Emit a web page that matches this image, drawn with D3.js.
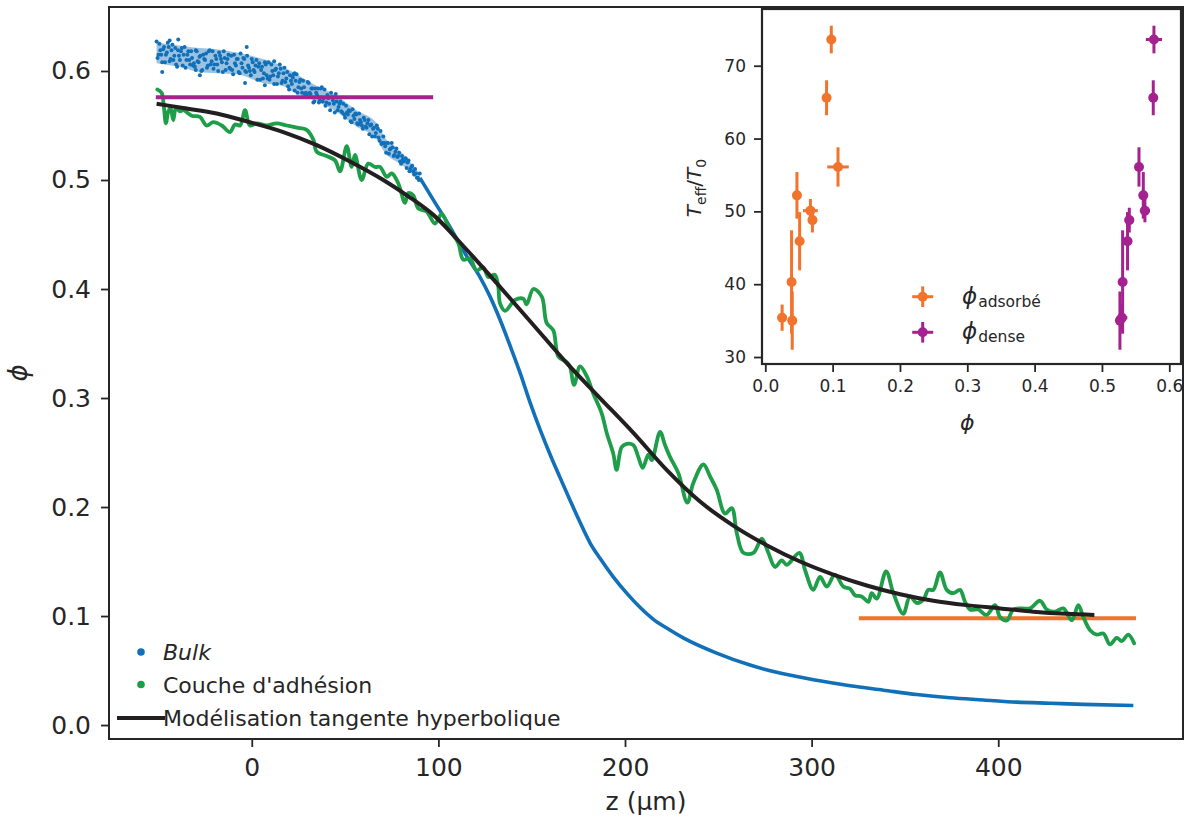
<!DOCTYPE html>
<html><head><meta charset="utf-8">
<script src="https://cdn.jsdelivr.net/npm/d3@7"></script>
<style>
body{margin:0;background:#fff}
svg{display:block}
text{font-family:"DejaVu Sans",sans-serif;fill:#262626}
</style>
</head><body>
<svg id="c" width="1197" height="821"></svg>
<script>
// ---------- DATA ----------
const xTicks = [0, 100, 200, 300, 400];
const yTicks = [0.0, 0.1, 0.2, 0.3, 0.4, 0.5, 0.6];
const insetXTicks = [0.0, 0.1, 0.2, 0.3, 0.4, 0.5, 0.6];
const insetYTicks = [30, 40, 50, 60, 70];

// Bulk: noisy upper region (z, phi)
const bulkTop = [[-51,0.627],[-50,0.615],[-49,0.619],[-48,0.608],[-47,0.622],[-46,0.615],[-45,0.626],[-44,0.609],[-43,0.619],[-42,0.610],
[-41,0.621],[-40,0.604],[-39,0.614],[-38,0.618],[-37,0.605],[-36,0.622],[-35,0.610],[-34,0.618],[-33,0.606],[-32,0.612],
[-31,0.607],[-30,0.619],[-29,0.609],[-28,0.613],[-27,0.600],[-26,0.615],[-25,0.610],[-24,0.603],[-23,0.618],[-22,0.606],
[-21,0.618],[-20,0.606],[-19,0.611],[-18,0.600],[-17,0.614],[-16,0.608],[-15,0.618],[-14,0.601],[-13,0.611],[-12,0.603],
[-11,0.614],[-10,0.597],[-9,0.607],[-8,0.611],[-7,0.599],[-6,0.616],[-5,0.603],[-4,0.611],[-3,0.599],[-2,0.605],
[-1,0.600],[0,0.611],[1,0.601],[2,0.605],[3,0.592],[4,0.607],[5,0.601],[6,0.593],[7,0.608],[8,0.596],
[9,0.608],[10,0.595],[11,0.600],[12,0.588],[13,0.602],[14,0.595],[15,0.606],[16,0.589],[17,0.598],[18,0.590],
[19,0.599],[20,0.583],[21,0.591],[22,0.594],[23,0.582],[24,0.597],[25,0.585],[26,0.592],[27,0.580],[28,0.585],
[29,0.580],[30,0.590],[31,0.580],[32,0.584],[33,0.571],[34,0.584],[35,0.578],[36,0.571],[37,0.584],[38,0.572],
[39,0.583],[40,0.571],[41,0.575],[42,0.564],[43,0.576],[44,0.570],[45,0.579],[46,0.564],[47,0.570],[48,0.563],
[49,0.570],[50,0.557],[51,0.562],[52,0.564],[53,0.554],[54,0.565],[55,0.556],[56,0.560],[57,0.551],[58,0.555],
[59,0.550],[60,0.557],[61,0.549],[62,0.552],[63,0.542],[64,0.551],[65,0.547],[66,0.540],[67,0.550],[68,0.539],
[69,0.545],[70,0.534],[71,0.534],[72,0.525],[73,0.534],[74,0.528],[75,0.534],[76,0.522],[77,0.526],[78,0.521],
[79,0.525],[80,0.515],[81,0.519],[82,0.519],[83,0.511],[84,0.518],[85,0.510],[86,0.513],[87,0.505],[88,0.506],
[89,0.502],[90,0.506],
[-48,0.599],[-39.4,0.629],[-27.8,0.596],[-2.7,0.622],[-3.6,0.589],[7,0.587],[23,0.598],[-44,0.628],[-30,0.601],[12,0.609]];
const bulkTop2 = [[-50.5,0.612],[-49.5,0.625],[-48.5,0.615],[-47.5,0.620],[-46.5,0.608],[-45.5,0.617],[-44.5,0.622],[-43.5,0.611],[-42.5,0.624],[-41.5,0.614],
[-40.5,0.606],[-39.5,0.619],[-38.5,0.610],[-37.5,0.621],[-36.5,0.615],[-35.5,0.603],[-34.5,0.615],[-33.5,0.610],[-32.5,0.618],[-31.5,0.605],
[-30.5,0.604],[-29.5,0.618],[-28.5,0.608],[-27.5,0.614],[-26.5,0.601],[-25.5,0.611],[-24.5,0.616],[-23.5,0.605],[-22.5,0.619],[-21.5,0.609],
[-20.5,0.602],[-19.5,0.614],[-18.5,0.606],[-17.5,0.617],[-16.5,0.611],[-15.5,0.599],[-14.5,0.612],[-13.5,0.607],[-12.5,0.615],[-11.5,0.602],
[-10.5,0.601],[-9.5,0.615],[-8.5,0.605],[-7.5,0.611],[-6.5,0.598],[-5.5,0.607],[-4.5,0.612],[-3.5,0.600],[-2.5,0.614],[-1.5,0.603],
[-0.5,0.596],[0.5,0.608],[1.5,0.599],[2.5,0.610],[3.5,0.604],[4.5,0.592],[5.5,0.604],[6.5,0.598],[7.5,0.606],[8.5,0.593],
[9.5,0.592],[10.5,0.606],[11.5,0.596],[12.5,0.601],[13.5,0.588],[14.5,0.598],[15.5,0.602],[16.5,0.591],[17.5,0.603],[18.5,0.593],
[19.5,0.586],[20.5,0.596],[21.5,0.588],[22.5,0.597],[23.5,0.591],[24.5,0.580],[25.5,0.590],[26.5,0.584],[27.5,0.591],[28.5,0.579],
[29.5,0.578],[30.5,0.589],[31.5,0.579],[32.5,0.584],[33.5,0.572],[34.5,0.580],[35.5,0.584],[36.5,0.573],[37.5,0.585],[38.5,0.575],
[39.5,0.568],[40.5,0.578],[41.5,0.570],[42.5,0.580],[43.5,0.573],[44.5,0.562],[45.5,0.572],[46.5,0.567],[47.5,0.572],[48.5,0.562],
[49.5,0.560],[50.5,0.568],[51.5,0.560],[52.5,0.563],[53.5,0.553],[54.5,0.559],[55.5,0.561],[56.5,0.552],[57.5,0.561],[58.5,0.553],
[59.5,0.547],[60.5,0.555],[61.5,0.548],[62.5,0.555],[63.5,0.550],[64.5,0.540],[65.5,0.548],[66.5,0.543],[67.5,0.547],[68.5,0.536],
[69.5,0.533],[70.5,0.540],[71.5,0.531],[72.5,0.534],[73.5,0.524],[74.5,0.529],[75.5,0.530],[76.5,0.523],[77.5,0.529],[78.5,0.522],
[79.5,0.517],[80.5,0.522],[81.5,0.517],[82.5,0.520],[83.5,0.516],[84.5,0.508],[85.5,0.512],[86.5,0.508],[87.5,0.510],[88.5,0.502],[89.5,0.500]];
// Bulk band envelope (upper noisy region)
const bandZ  = [-51, -37, -28, -19, -8, 6, 17, 22, 35, 45, 56, 67, 71, 81, 90];
const bandHi = [0.626,0.623,0.621,0.620,0.617,0.611,0.604,0.599,0.586,0.578,0.564,0.552,0.540,0.524,0.506];
const bandLo = [0.607,0.603,0.599,0.598,0.597,0.589,0.586,0.581,0.572,0.563,0.549,0.537,0.526,0.513,0.498];
// Bulk: smooth lower region
const bulkZ = [90.1,97.2,106.2,115.2,122.3,127.7,133.0,138.4,143.8,149.1,154.5,159.9,165.2,170.6,175.9,181.3,186.6,193.7,200.9,208.0,215.2,222.3,231.2,249.1,267.0,284.8,302.7,320.6,338.4,356.3,374.2,392.0,409.9,427.8,445.6,472.4];
const bulkPhi = [0.502,0.482,0.457,0.430,0.411,0.393,0.372,0.348,0.323,0.296,0.271,0.248,0.227,0.206,0.186,0.167,0.153,0.136,0.121,0.108,0.097,0.089,0.080,0.066,0.055,0.047,0.041,0.036,0.032,0.028,0.025,0.023,0.021,0.020,0.019,0.018];

// Couche d'adhesion
const greenZ = [-50.6,-48.3,-47.1,-46.0,-44.7,-43.5,-42.1,-40.6,-38.5,-36.7,-32.2,-27.8,-24.2,-20.6,-16.1,-11.7,-9.0,-6.3,-3.6,-1.0,2.6,8.0,13.3,18.7,24.1,29.4,33.0,34.8,40.1,44.6,47.3,50.9,53.5,55.3,58.9,62.4,66.0,68.7,72.3,75.0,78.5,82.1,83.9,86.5,89.2,93.7,98.2,101.8,106.2,110.7,113.3,116.9,120.5,124.1,126.7,130.3,132.1,133.0,135.7,141.1,145.5,147.3,150.9,155.4,158.0,161.6,164.3,168.8,170.5,172.7,175.9,179.5,183.0,187.5,190.2,193.7,195.5,198.2,200.9,204.4,207.1,209.5,212.5,214.3,218.8,221.4,224.1,228.6,233.4,236.6,242.0,245.6,249.1,253.6,257.2,259.9,263.4,268.8,273.3,276.8,280.4,284.0,286.7,293.4,296.5,300.9,304.5,308.1,312.5,317.0,320.6,323.3,326.8,330.4,332.2,334.9,339.9,343.8,349.1,352.7,356.3,359.9,362.5,365.2,368.8,372.4,375.9,379.5,382.2,384.9,389.3,393.8,398.3,401.0,404.6,408.1,412.6,417.0,422.4,426.0,430.4,434.9,439.4,442.9,445.6,449.2,452.8,456.3,459.9,463.5,466.2,469.7,472.8];
const greenPhi = [0.583,0.580,0.567,0.552,0.563,0.566,0.555,0.566,0.563,0.564,0.559,0.558,0.550,0.553,0.550,0.544,0.551,0.550,0.564,0.550,0.552,0.550,0.552,0.550,0.548,0.546,0.537,0.526,0.522,0.518,0.508,0.531,0.512,0.523,0.500,0.515,0.512,0.512,0.503,0.506,0.497,0.479,0.488,0.486,0.474,0.471,0.460,0.469,0.454,0.442,0.427,0.428,0.417,0.420,0.411,0.413,0.402,0.387,0.380,0.390,0.391,0.386,0.400,0.393,0.369,0.362,0.338,0.333,0.329,0.312,0.329,0.320,0.304,0.286,0.268,0.249,0.234,0.255,0.258,0.257,0.246,0.236,0.248,0.243,0.269,0.257,0.246,0.231,0.204,0.222,0.239,0.228,0.216,0.194,0.199,0.176,0.158,0.158,0.171,0.158,0.145,0.151,0.147,0.158,0.142,0.124,0.136,0.127,0.138,0.127,0.125,0.119,0.118,0.113,0.121,0.116,0.141,0.121,0.102,0.118,0.112,0.115,0.124,0.124,0.140,0.124,0.121,0.124,0.113,0.106,0.106,0.101,0.110,0.099,0.096,0.106,0.107,0.107,0.114,0.106,0.104,0.107,0.096,0.110,0.099,0.087,0.083,0.084,0.074,0.080,0.077,0.083,0.075];

// tanh model
const fitZ = [-51.0,-36.7,-18.8,-1.0,16.9,34.8,52.6,70.5,83.9,97.3,115.2,133.0,150.9,168.8,186.6,204.5,222.3,240.2,258.0,275.9,293.8,311.6,329.5,347.4,365.2,383.0,401.0,418.8,436.7,451.5];
const fitPhi = [0.570,0.566,0.561,0.553,0.544,0.532,0.517,0.500,0.485,0.468,0.436,0.402,0.367,0.332,0.300,0.268,0.234,0.205,0.183,0.165,0.150,0.138,0.128,0.120,0.114,0.110,0.107,0.104,0.102,0.101];

// horizontal levels
const denseLevel = {z0: -51.4, z1: 97.2, phi: 0.576};
const adsLevel = {z0: 325.3, z1: 473.8, phi: 0.098};

// inset
const teff    = [35.4, 35.0, 40.3, 52.2, 45.9, 50.1, 48.8, 65.6, 73.6, 56.1];
const teffErr = [1.8, 4.0, 7.1, 3.2, 4.0, 1.6, 1.7, 2.4, 1.9, 2.7];
const phiAds    = [0.025, 0.040, 0.039, 0.047, 0.051, 0.067, 0.070, 0.091, 0.098, 0.108];
const phiAdsErr = [0.007, 0.003, 0.003, 0.004, 0.004, 0.011, 0.005, 0.004, 0.004, 0.016];
const phiDense    = [0.5297, 0.5267, 0.5307, 0.5614, 0.538, 0.5638, 0.5406, 0.5762, 0.5772, 0.555];
const phiDenseErr = [0.008, 0.004, 0.004, 0.004, 0.004, 0.0075, 0.007, 0.004, 0.012, 0.004];

// ---------- STYLE ----------
const C = {blue:"#1170b8", green:"#1f9e49", orange:"#f2732b", purple:"#a3228f", black:"#231f20", axis:"#262626"};

const svg = d3.select("#c");
const M = {l:109, r:1183, t:7, b:739};
const x = d3.scaleLinear().domain([-76.5, 499]).range([M.l, M.r]);
const y = d3.scaleLinear().domain([-0.0128, 0.6587]).range([M.b, M.t]);

// bulk band
svg.append("path")
  .datum(d3.zip(bandZ, bandLo, bandHi))
  .attr("d", d3.area().x(d=>x(d[0])).y0(d=>y(d[1])).y1(d=>y(d[2])).curve(d3.curveMonotoneX))
  .attr("fill", C.blue).attr("fill-opacity", 0.42);
svg.append("g").selectAll("circle").data(bulkTop.concat(bulkTop2)).join("circle")
  .attr("cx", d=>x(d[0])).attr("cy", d=>y(d[1])).attr("r", 2.0).attr("fill", C.blue);
svg.append("path")
  .datum(d3.zip(bulkZ, bulkPhi))
  .attr("d", d3.line().x(d=>x(d[0])).y(d=>y(d[1])).curve(d3.curveMonotoneX))
  .attr("fill","none").attr("stroke", C.blue).attr("stroke-width", 3.6);

// orange level
svg.append("line").attr("x1", x(adsLevel.z0)).attr("x2", x(adsLevel.z1))
  .attr("y1", y(adsLevel.phi)).attr("y2", y(adsLevel.phi))
  .attr("stroke", C.orange).attr("stroke-width", 4);

// green
svg.append("path")
  .datum(d3.zip(greenZ, greenPhi))
  .attr("d", d3.line().x(d=>x(d[0])).y(d=>y(d[1])).curve(d3.curveCatmullRom))
  .attr("fill","none").attr("stroke", C.green).attr("stroke-width", 3.8)
  .attr("stroke-linejoin","round").attr("stroke-linecap","round");

// black fit
svg.append("path")
  .datum(d3.zip(fitZ, fitPhi))
  .attr("d", d3.line().x(d=>x(d[0])).y(d=>y(d[1])).curve(d3.curveMonotoneX))
  .attr("fill","none").attr("stroke", C.black).attr("stroke-width", 4);

// purple level
svg.append("line").attr("x1", x(denseLevel.z0)).attr("x2", x(denseLevel.z1))
  .attr("y1", y(denseLevel.phi)).attr("y2", y(denseLevel.phi))
  .attr("stroke", C.purple).attr("stroke-width", 4);

// axes
const gx = svg.append("g").attr("transform", `translate(0,${M.b})`)
  .call(d3.axisBottom(x).tickValues(xTicks).tickSize(8).tickPadding(11).tickFormat(d3.format("d")));
const gy = svg.append("g").attr("transform", `translate(${M.l},0)`)
  .call(d3.axisLeft(y).tickValues(yTicks).tickSize(8).tickPadding(10).tickFormat(d3.format(".1f")));
[gx, gy].forEach(g => {
  g.select(".domain").remove();
  g.selectAll(".tick line").attr("stroke", C.axis).attr("stroke-width", 1.8);
  g.selectAll(".tick text").attr("font-size", 25).attr("fill", C.axis).attr("font-family", '"DejaVu Sans"');
});
svg.append("rect").attr("x", M.l).attr("y", M.t).attr("width", M.r-M.l).attr("height", M.b-M.t)
  .attr("fill","none").attr("stroke", C.axis).attr("stroke-width", 2);

svg.append("text").attr("x", (M.l+M.r)/2).attr("y", 810).attr("text-anchor","middle")
  .attr("font-size", 25).text("z (µm)");
svg.append("text").attr("transform", "translate(27,373) rotate(-90)").attr("text-anchor","middle")
  .attr("font-size", 26).attr("font-style","italic").text("ϕ");

// legend
const lg = svg.append("g");
lg.append("circle").attr("cx", 141).attr("cy", 652).attr("r", 3.8).attr("fill", C.blue);
lg.append("text").attr("x", 163).attr("y", 660).attr("font-size", 22).attr("font-style","italic").text("Bulk");
lg.append("circle").attr("cx", 141).attr("cy", 684.5).attr("r", 3.8).attr("fill", C.green);
lg.append("text").attr("x", 163).attr("y", 692.5).attr("font-size", 22).text("Couche d'adhésion");
lg.append("line").attr("x1", 117).attr("x2", 165).attr("y1", 718).attr("y2", 718).attr("stroke", C.black).attr("stroke-width", 4);
lg.append("text").attr("x", 163).attr("y", 726).attr("font-size", 22).text("Modélisation tangente hyperbolique");

// ---------- INSET ----------
const I = {l:762, r:1181, t:9, b:364};
const ix = d3.scaleLinear().domain([-0.0049, 0.6174]).range([I.l, I.r]);
const iy = d3.scaleLinear().domain([29.04, 77.79]).range([I.b, I.t]);
svg.append("rect").attr("x", I.l).attr("y", I.t).attr("width", I.r-I.l).attr("height", I.b-I.t).attr("fill","#fff");

function errGroup(phis, phiErrs, color) {
  const g = svg.append("g");
  const data = d3.range(teff.length).map(i => ({p: phis[i], pe: phiErrs[i], t: teff[i], te: teffErr[i]}));
  g.selectAll("line.v").data(data).join("line").attr("class","v")
    .attr("x1", d=>ix(d.p)).attr("x2", d=>ix(d.p)).attr("y1", d=>iy(d.t-d.te)).attr("y2", d=>iy(d.t+d.te))
    .attr("stroke", color).attr("stroke-width", 3);
  g.selectAll("line.h").data(data).join("line").attr("class","h")
    .attr("x1", d=>ix(d.p-d.pe)).attr("x2", d=>ix(d.p+d.pe)).attr("y1", d=>iy(d.t)).attr("y2", d=>iy(d.t))
    .attr("stroke", color).attr("stroke-width", 3);
  g.selectAll("circle").data(data).join("circle")
    .attr("cx", d=>ix(d.p)).attr("cy", d=>iy(d.t)).attr("r", 5).attr("fill", color);
}
errGroup(phiAds, phiAdsErr, C.orange);
errGroup(phiDense, phiDenseErr, C.purple);

const igx = svg.append("g").attr("transform", `translate(0,${I.b})`)
  .call(d3.axisBottom(ix).tickValues(insetXTicks).tickSize(8).tickPadding(8).tickFormat(d3.format(".1f")));
const igy = svg.append("g").attr("transform", `translate(${I.l},0)`)
  .call(d3.axisLeft(iy).tickValues(insetYTicks).tickSize(8).tickPadding(8).tickFormat(d3.format("d")));
[igx, igy].forEach(g => {
  g.select(".domain").remove();
  g.selectAll(".tick line").attr("stroke", C.axis).attr("stroke-width", 1.8);
  g.selectAll(".tick text").attr("font-size", 17).attr("fill", C.axis).attr("font-family", '"DejaVu Sans"');
});
svg.append("rect").attr("x", I.l).attr("y", I.t).attr("width", I.r-I.l).attr("height", I.b-I.t)
  .attr("fill","none").attr("stroke", C.axis).attr("stroke-width", 2.2);

svg.append("text").attr("x", (ix(0)+ix(0.6))/2).attr("y", 430).attr("text-anchor","middle")
  .attr("font-size", 22).attr("font-style","italic").text("ϕ");
const yl = svg.append("text").attr("transform","translate(701,188) rotate(-90)").attr("text-anchor","middle").attr("font-size", 20);
yl.append("tspan").attr("font-style","italic").text("T");
yl.append("tspan").attr("font-size", 14).attr("dy", 5).text("eff");
yl.append("tspan").attr("dy", -5).text("/");
yl.append("tspan").attr("font-style","italic").text("T");
yl.append("tspan").attr("font-size", 14).attr("dy", 5).text("0");

// inset legend
function legItem(cy, color, sub) {
  const cx = 922.7;
  svg.append("line").attr("x1", cx-10.5).attr("x2", cx+10.5).attr("y1", cy).attr("y2", cy).attr("stroke", color).attr("stroke-width", 3);
  svg.append("line").attr("x1", cx).attr("x2", cx).attr("y1", cy-10.3).attr("y2", cy+10.3).attr("stroke", color).attr("stroke-width", 3);
  svg.append("circle").attr("cx", cx).attr("cy", cy).attr("r", 5).attr("fill", color);
  const t = svg.append("text").attr("x", 962).attr("y", cy+7).attr("font-size", 23);
  t.append("tspan").attr("font-style","italic").text("ϕ");
  t.append("tspan").attr("font-size", 15.5).attr("dy", 3).attr("dx", 1).text(sub);
}
legItem(296.7, C.orange, "adsorbé");
legItem(332.3, C.purple, "dense");
</script>
</body></html>
